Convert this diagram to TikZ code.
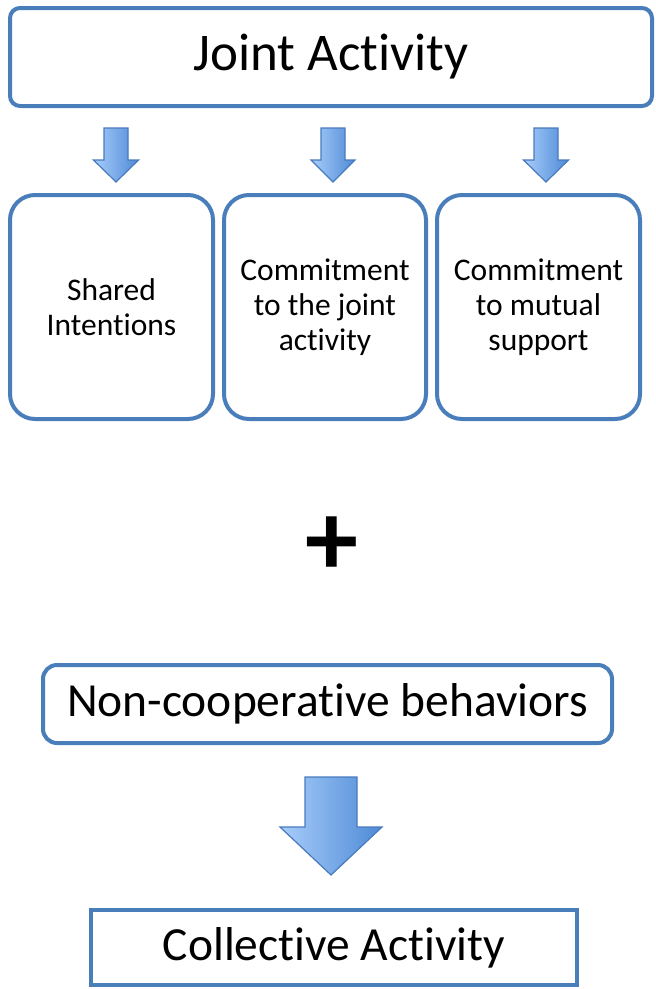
\documentclass[tikz,border=0pt]{standalone}
\usepackage{fontspec}
\setmainfont{Carlito}[Ligatures=NoCommon]
\usepackage{tikz}
\definecolor{boxline}{RGB}{74,126,187}
\definecolor{arrowlight}{RGB}{168,205,250}
\definecolor{arrowdark}{RGB}{78,138,214}
\definecolor{arrowline}{RGB}{72,122,190}
\tikzstyle{bluebox}=[draw=boxline,line width=4pt,fill=white,
                     inner sep=0pt,align=center]
\tikzstyle{partbox}=[bluebox,rounded corners=25pt,minimum width=203pt,
                     minimum height=224pt,font=\fontsize{31.5}{35}\selectfont]
\tikzstyle{arrowfill}=[draw=arrowline,line width=1.2pt,line join=miter,
                       left color=arrowlight,right color=arrowdark]

\begin{document}
\begin{tikzpicture}[x=1pt,y=-1pt]
    \newcommand{\blockdown}[6]{%
      \draw[arrowfill] (#1-#5,#2) -- (#1+#5,#2) -- (#1+#5,#3) -- (#1+#6,#3)
        -- (#1,#4) -- (#1-#6,#3) -- (#1-#5,#3) -- cycle;}
    \useasboundingbox (0,0) rectangle (656,989);
    % top box
    \node (joint) at (331,57) [bluebox,rounded corners=10pt,
      minimum width=642pt,minimum height=98pt,
      font=\fontsize{53}{60}\selectfont] {Joint Activity};
    % the three parts
    \node (shared) at (111.5,307) [partbox] {Shared\\Intentions};
    \node (cjoint) at (325,307) [partbox,minimum width=202pt]
      {Commitment\\to the joint\\activity};
    \node (cmutual) at (538.5,307) [partbox]
      {Commitment\\to mutual\\support};
    \blockdown{116}{128}{160}{182}{12}{22.5}
    \blockdown{333}{128}{160}{182}{12}{22}
    \blockdown{546}{128}{160}{182}{12}{22.5}
    % plus
    \node (plus) at (332,546) [inner sep=0pt,
      font=\fontsize{106}{106}\selectfont\bfseries] {+};
    \node (noncoop) at (327.5,704) [bluebox,rounded corners=14pt,
      minimum width=569pt,minimum height=78pt,
      font=\fontsize{47.5}{55}\selectfont] {Non-cooperative behaviors};
    \blockdown{331}{777}{827}{875}{26}{51}
    \node (collective) at (334,947.5) [bluebox,
      minimum width=486pt,minimum height=75pt,
      font=\fontsize{47.5}{55}\selectfont] {Collective Activity};
  \end{tikzpicture}
\end{document}
